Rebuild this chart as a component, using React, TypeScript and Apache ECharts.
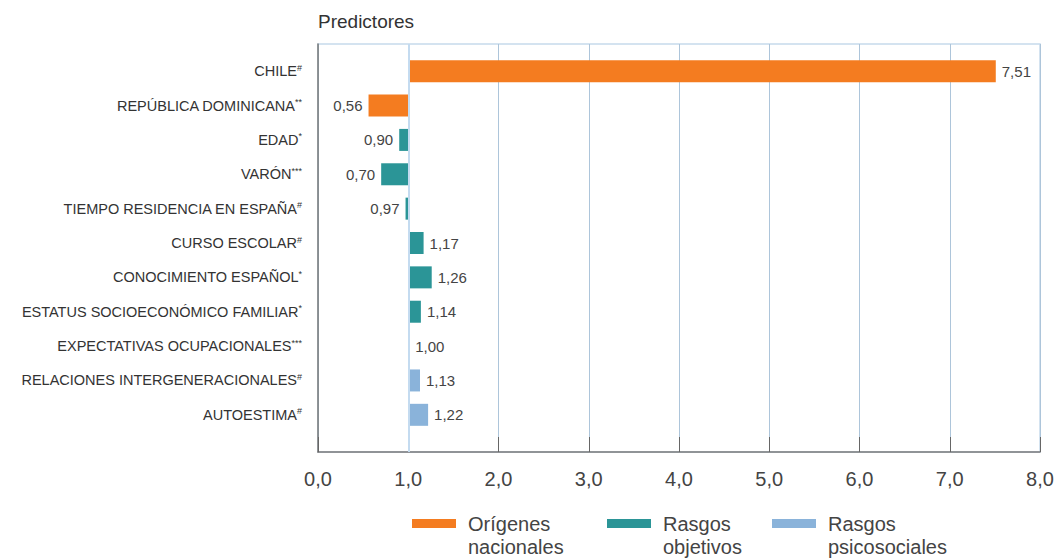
import React, { useEffect, useRef } from "react";
import * as echarts from "echarts";

const categories = [
  "CHILE",
  "REPÚBLICA DOMINICANA",
  "EDAD",
  "VARÓN",
  "TIEMPO RESIDENCIA EN ESPAÑA",
  "CURSO ESCOLAR",
  "CONOCIMIENTO ESPAÑOL",
  "ESTATUS SOCIOECONÓMICO FAMILIAR",
  "EXPECTATIVAS OCUPACIONALES",
  "RELACIONES INTERGENERACIONALES",
  "AUTOESTIMA",
];
const significance = ["#", "**", "*", "***", "#", "#", "*", "*", "***", "#", "#"];
const oddsRatios = [7.51, 0.56, 0.9, 0.7, 0.97, 1.17, 1.26, 1.14, 1.0, 1.13, 1.22];
const groupOf = [0, 0, 1, 1, 1, 1, 1, 1, 2, 2, 2];
const groupNames = ["Orígenes nacionales", "Rasgos objetivos", "Rasgos psicosociales"];
const groupColors = ["#F47C20", "#2B9597", "#8AB3DA"];
const xMin = 0;
const xMax = 8;
const xStep = 1;
const titleText = "Predictores";

const fmt = (v: number, d: number) => v.toFixed(d).replace(".", ",");

const SANS = '"Liberation Sans", Arial, sans-serif';

export default function App() {
  const ref = useRef<HTMLDivElement>(null);
  useEffect(() => {
    if (!ref.current) return;
    const chart = echarts.init(ref.current, undefined, { renderer: "svg" });
    const legendLefts = [412, 607, 772];
    const option: any = {
      animation: false,
      backgroundColor: "#ffffff",
      title: {
        text: titleText,
        left: 318,
        top: 12,
        padding: 0,
        textStyle: { fontFamily: SANS, fontSize: 19, fontWeight: "normal", color: "#333" },
      },
      legend: groupNames.map((n, i) => ({
        data: [n],
        left: legendLefts[i],
        top: 489,
        padding: 0,
        itemWidth: 44,
        itemHeight: 9,
        icon: "rect",
        selectedMode: false,
        formatter: (name: string) => " \n" + name.replace(" ", "\n"),
        textStyle: {
          fontFamily: SANS,
          fontSize: 20,
          lineHeight: 23,
          color: "#444",
          padding: [0, 0, 0, 7],
        },
      })),
      grid: [
        {
          left: 318,
          right: 16,
          top: 44,
          bottom: 106,
          show: true,
          borderColor: "#c6daec",
          borderWidth: 1.5,
          outerBoundsMode: "none",
          containLabel: false,
        },
        { left: 318, right: 16, top: 54, bottom: 126, outerBoundsMode: "none", containLabel: false },
      ],
      xAxis: [
        {
          gridIndex: 0,
          type: "value",
          min: xMin,
          max: xMax,
          interval: xStep,
          axisLine: { show: true, lineStyle: { color: "#7a7a7a", width: 1.5 } },
          axisTick: { show: true, inside: true, length: 15, lineStyle: { color: "#666", width: 1 } },
          splitLine: { show: true, lineStyle: { color: "#adc5da", width: 1 } },
          axisLabel: {
            fontFamily: SANS,
            fontSize: 20,
            color: "#444",
            margin: 17,
            formatter: (v: number) => fmt(v, 1),
          },
        },
        { gridIndex: 1, type: "value", min: xMin, max: xMax, show: false },
      ],
      yAxis: [
        {
          gridIndex: 0,
          type: "value",
          min: 0,
          max: 1,
          axisLine: { show: true, lineStyle: { color: "#7a7a7a", width: 1.5 } },
          axisTick: { show: false },
          axisLabel: { show: false },
          splitLine: { show: false },
        },
        {
          gridIndex: 1,
          type: "category",
          data: categories,
          inverse: true,
          axisLine: { show: false },
          axisTick: { show: false },
          splitLine: { show: false },
          axisLabel: {
            margin: 16,
            formatter: (v: string, i: number) => `{a|${v}}{s|${significance[i]}}`,
            rich: {
              a: { fontFamily: SANS, fontSize: 14.5, color: "#333" },
              s: { fontFamily: SANS, fontSize: 9, color: "#333", verticalAlign: "top", padding: [0, 0, 7, 0] },
            },
          },
        },
      ],
      series: [
        {
          type: "scatter",
          xAxisIndex: 0,
          yAxisIndex: 0,
          data: [],
          silent: true,
          markLine: {
            silent: true,
            symbol: "none",
            label: { show: false },
            lineStyle: { color: "#c4dbf0", width: 2, type: "solid" },
            data: [{ xAxis: 1 }],
          },
        },
        {
          name: "base",
          type: "bar",
          xAxisIndex: 1,
          yAxisIndex: 1,
          stack: "or",
          barWidth: 22,
          silent: true,
          itemStyle: { color: "rgba(0,0,0,0)" },
          data: oddsRatios.map((v) => Math.min(v, 1)),
        },
        ...groupNames.map((n, g) => ({
          name: n,
          type: "bar",
          xAxisIndex: 1,
          yAxisIndex: 1,
          stack: "or",
          barWidth: 22,
          barMinHeight: 1,
          itemStyle: { color: groupColors[g] },
          label: {
            show: true,
            distance: 6,
            fontFamily: SANS,
            fontSize: 15,
            color: "#444",
            formatter: (p: any) => fmt(oddsRatios[p.dataIndex], 2),
          },
          data: oddsRatios.map((v, i) =>
            groupOf[i] === g
              ? { value: Math.abs(v - 1), label: { position: v < 1 ? "left" : "right" } }
              : "-"
          ),
        })),
      ],
    };
    chart.setOption(option);
    return () => chart.dispose();
  }, []);
  return (
    <div
      ref={ref}
      style={{ position: "fixed", left: 0, top: 0, width: 1056, height: 558 }}
    />
  );
}
